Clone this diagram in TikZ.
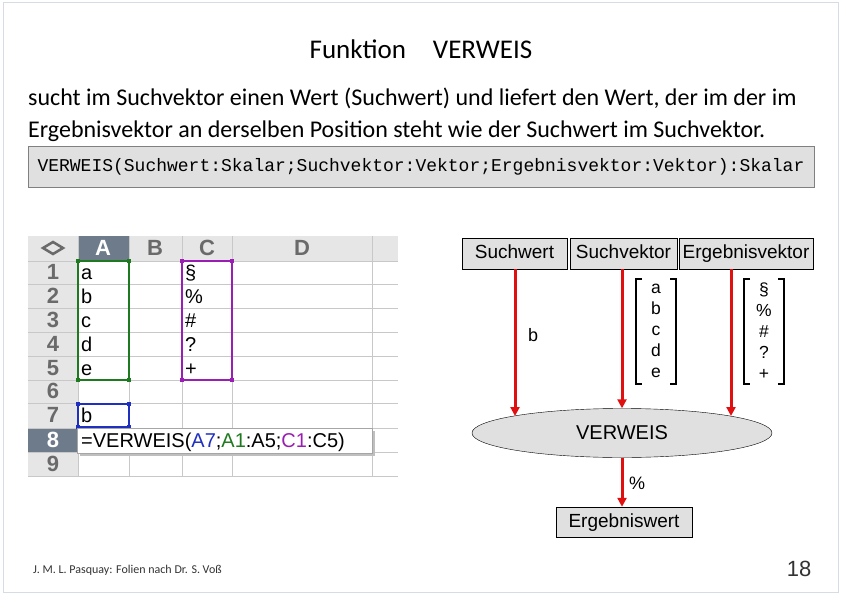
\documentclass[tikz,border=0pt]{standalone}
\usepackage{fontspec}
\setmainfont{Carlito}
\newfontfamily\arial{Liberation Sans}
\newfontfamily\cour{Liberation Mono}
\usetikzlibrary{shapes.geometric,arrows.meta}
\definecolor{hdr}{HTML}{E6E6E6}
\definecolor{hdrsel}{HTML}{6E7B8A}
\definecolor{grid}{HTML}{C8C8C8}
\definecolor{hdrtxt}{HTML}{6A6A6A}
\definecolor{boxgray}{HTML}{E0E0E0}
\definecolor{redar}{HTML}{E01010}
\definecolor{frm}{HTML}{D5DCE4}
\definecolor{grn}{HTML}{1E7A1E}
\definecolor{pur}{HTML}{9A1EB4}
\definecolor{blu}{HTML}{1F2FC0}
\tikzset{
 lbl/.style={draw=black,fill=boxgray,font=\arial\fontsize{19}{19}\selectfont,inner sep=0pt,anchor=center,text height=14pt,text depth=4pt},
 redarrow/.style={draw=redar,line width=3pt,-{Triangle[length=9pt,width=9pt]}},
 cell/.style={font=\arial\fontsize{20}{20}\selectfont,anchor=base west,inner sep=0pt},
 hnum/.style={font=\arial\bfseries\fontsize{22}{22}\selectfont,text=hdrtxt,inner sep=0pt},
 vec/.style={font=\arial\fontsize{17.5}{21}\selectfont,align=center,inner sep=0pt}
}
\begin{document}
\begin{tikzpicture}[x=1pt,y=-1pt]
\useasboundingbox (0,0) rectangle (842,596);
\fill[white] (0,0) rectangle (842,596);
\draw[frm,line width=1pt] (3,3) rectangle (838,592);
% title and text
\node[font=\fontsize{27}{27}\selectfont,inner sep=0pt] (title) at (421,49) {Funktion\quad VERWEIS};
\node[font=\fontsize{24}{32}\selectfont,align=left,anchor=north west,inner sep=0pt] (desc) at (28,88)
 {sucht im Suchvektor einen Wert (Suchwert) und liefert den Wert, der im der im\\Ergebnisvektor an derselben Position steht wie der Suchwert im Suchvektor.};
\node[draw=gray,fill=boxgray,minimum width=786pt,minimum height=41pt,inner sep=0pt,font=\cour\fontsize{18}{18}\selectfont] (code) at (421,166.5)
 {VERWEIS(Suchwert:Skalar;Suchvektor:Vektor;Ergebnisvektor:Vektor):Skalar};
% spreadsheet
\fill[hdr] (28,236) rectangle (398,261);
\fill[hdr] (28,261) rectangle (78,476);
\fill[hdrsel] (78,236) rectangle (129,261);
\fill[hdrsel] (28,428) rectangle (78,452);
\foreach \y in {261,284,308,332,356,380,403,428,452,476} \draw[grid] (28,\y) -- (398,\y);
\foreach \x in {78,129,182,232,372} \draw[grid] (\x,236) -- (\x,476);
\draw[hdrtxt,line width=2.5pt] (43,248) -- (53,242) -- (63,248) -- (53,254) -- cycle;
\node[hnum,text=white] (hA) at (103,248) {A};
\node[hnum] (hB) at (155,248) {B};
\node[hnum] (hC) at (207,248) {C};
\node[hnum] (hD) at (302,248) {D};
\foreach \n/\y in {1/272,2/296,3/320,4/344,5/368,6/391,7/415,9/464} \node[hnum] (r\n) at (53,\y) {\n};
\node[hnum,text=white] (r8) at (53,440) {8};
\foreach \t/\y [count=\i] in {a/279,b/303,c/327,d/351,e/375} \node[cell] (ca\i) at (81,\y) {\t};
\foreach \t/\y [count=\i] in {\S/279,\%/303,\#/327,?/351,+/375} \node[cell] (cc\i) at (185,\y) {\t};
\node[cell] (ca7) at (81,422) {b};
\draw[grn,line width=1.2pt] (78,261) rectangle (129,380);
\foreach \p in {(78,261),(129,261),(78,380),(129,380)} \fill[grn] \p +(-2,-2) rectangle +(2,2);
\draw[pur,line width=1.2pt] (182,261) rectangle (232,380);
\foreach \p in {(182,261),(232,261),(182,380),(232,380)} \fill[pur] \p +(-2,-2) rectangle +(2,2);
\draw[blu,line width=1.2pt] (78,404) rectangle (129,427);
\foreach \p in {(78,404),(129,404),(78,427),(129,427)} \fill[blu] \p +(-2,-2) rectangle +(2,2);
\fill[black!25] (80,431) rectangle (375,456);
\node[draw=gray!70,fill=white,minimum width=295pt,minimum height=25pt,inner sep=0pt,anchor=north west] (formula) at (77,428) {};
\node[cell] (ftxt) at (81,447) {=VERWEIS(\textcolor{blu}{A7};\textcolor{grn}{A1}:A5;\textcolor{pur}{C1}:C5)};
% diagram
\node[lbl,minimum width=105pt,minimum height=31pt] (sw) at (514.5,253.5) {Suchwert};
\node[lbl,minimum width=107pt,minimum height=31pt] (sv) at (623.5,253.5) {Suchvektor};
\node[lbl,minimum width=134pt,minimum height=31pt] (ev) at (746,253.5) {Ergebnisvektor};
\node[ellipse,draw=black,fill=boxgray,minimum width=300pt,minimum height=49pt,inner sep=0pt,font=\arial\fontsize{20}{20}\selectfont] (vw) at (622,433) {VERWEIS};
\node[lbl,minimum width=136pt,minimum height=30pt] (ew) at (624,522) {Ergebniswert};
\draw[redarrow] (sw.south -| 515,0) -- (515,416);
\draw[redarrow] (sv.south -| 622,0) -- (vw.north);
\draw[redarrow] (ev.south -| 731,0) -- (731,416);
\draw[redarrow] (vw.south) -- (ew.north -| vw.south);
\node[font=\arial\fontsize{18}{18}\selectfont] (lb) at (533,335) {b};
\node[font=\arial\fontsize{18}{18}\selectfont] (lp) at (637,483) {\%};
\node[vec] (v1) at (656,331) {a\\b\\c\\d\\e};
\draw[line width=1.5pt] (642,279) -- (636,279) -- (636,384) -- (642,384);
\draw[line width=1.5pt] (670,279) -- (676,279) -- (676,384) -- (670,384);
\node[vec] (v2) at (764,331) {\S\\\%\\\#\\?\\+};
\draw[line width=1.5pt] (750,279) -- (744,279) -- (744,384) -- (750,384);
\draw[line width=1.5pt] (778,279) -- (784,279) -- (784,384) -- (778,384);
% footer
\node[font=\fontsize{12}{12}\selectfont,anchor=west,inner sep=0pt,text=black!80] (foot) at (33,570) {J. M. L. Pasquay: Folien nach Dr. S. Voß};
\node[font=\arial\fontsize{22}{22}\selectfont,text=black!80,inner sep=0pt] (pg) at (799,569) {18};
\end{tikzpicture}
\end{document}
